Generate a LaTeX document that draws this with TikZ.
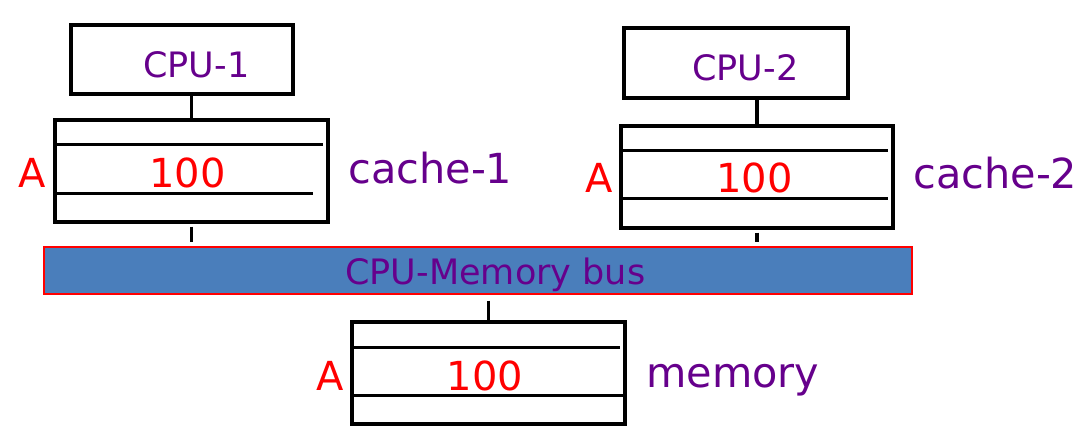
\documentclass[tikz,border=0pt]{standalone}
\usepackage{fontspec}
\setmainfont{DejaVu Sans}
\definecolor{labelpurple}{RGB}{102,0,140}
\definecolor{busblue}{RGB}{74,126,187}
\begin{document}
\begin{tikzpicture}[x=0.5pt, y=-0.5pt,
  blk/.style={draw, line width=1.6pt, inner sep=0pt},
  row/.style={line width=1.6pt},
  wire/.style={line width=1.7pt},
  lbl/.style={text=labelpurple, inner sep=0pt, anchor=base west},
  val/.style={text=red, inner sep=0pt, anchor=base, font=\fontsize{20pt}{24pt}\selectfont}]
\useasboundingbox (0,0) rectangle (1087,440);

\node (cpu1) at (182,59.5) [blk, minimum width=111pt, minimum height=34.5pt] {};
\node (cpu1txt) at (143,77) [lbl, font=\fontsize{17.5pt}{21pt}\selectfont] {CPU-1};
\node (cpu2) at (736,63) [blk, minimum width=112pt, minimum height=35pt] {};
\node (cpu2txt) at (692,80) [lbl, font=\fontsize{17.5pt}{21pt}\selectfont] {CPU-2};

\node (cache1) at (191.5,171) [blk, minimum width=136.5pt, minimum height=51pt] {};
\draw[row] (cache1.north west) ++(0,26) -- ++(270,0);
\draw[row] (cache1.south west) ++(4,-30) -- ++(256,0);
\node (a1) at (32,187) [val] {A};
\node (v1) at (187.5,187) [val] {100};
\node (cache1txt) at (348,183) [lbl, font=\fontsize{20.7pt}{25pt}\selectfont] {cache-1};

\node (cache2) at (757,177) [blk, minimum width=136pt, minimum height=51pt] {};
\draw[row] (cache2.north west) ++(0,26) -- ++(269,0);
\draw[row] (cache2.south west) ++(0,-31) -- ++(269,0);
\node (a2) at (599,192) [val] {A};
\node (v2) at (754.5,192) [val] {100};
\node (cache2txt) at (913,188) [lbl, font=\fontsize{20.7pt}{25pt}\selectfont] {cache-2};

\node (bus) at (478,270.5) [fill=busblue, draw=red, line width=0.6pt, minimum width=434pt, minimum height=23.5pt] {};
\node (bustxt) at (345,284) [lbl, font=\fontsize{17.5pt}{21pt}\selectfont] {CPU-Memory bus};

\node (memory) at (488.5,373) [blk, minimum width=136.5pt, minimum height=51pt] {};
\draw[row] (memory.north west) ++(0,27) -- ++(270,0);
\draw[row] (memory.south west) ++(0,-30) -- ++(273,0);
\node (a3) at (330,390) [val] {A};
\node (v3) at (485,390) [val] {100};
\node (memorytxt) at (646,387) [lbl, font=\fontsize{20.7pt}{25pt}\selectfont] {memory};

\draw[wire] (cpu1.south -| cache1.north) -- (cache1.north);
\draw[wire, shorten <=1.5pt, shorten >=2pt] (cache1.south) -- (cache1.south |- bus.north);
\draw[wire] (cpu2.south -| cache2.north) -- (cache2.north);
\draw[wire, shorten <=1.5pt, shorten >=2pt] (cache2.south) -- (cache2.south |- bus.north);
\draw[wire, shorten <=3pt] (bus.south -| memory.north) -- (memory.north);
\end{tikzpicture}
\end{document}
